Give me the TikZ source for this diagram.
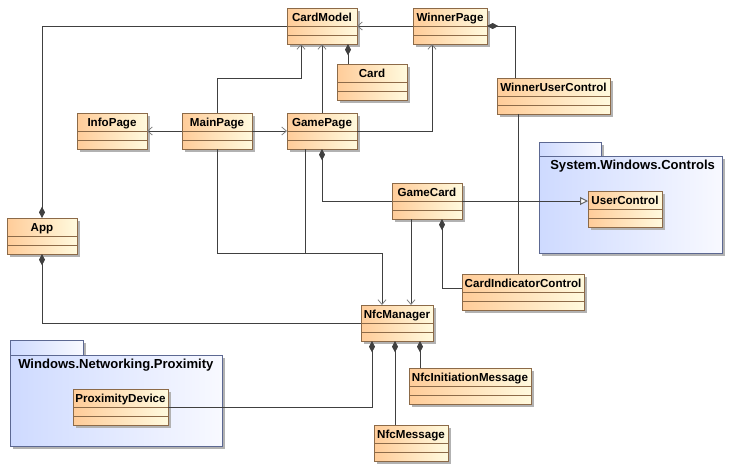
\documentclass[tikz,border=0pt]{standalone}
\usepackage{fontspec}
\setmainfont{Liberation Sans}
\usepackage{tikz}
\usetikzlibrary{arrows.meta, calc, shadows}
\definecolor{classLeft}{RGB}{255, 204, 153}
\definecolor{classRight}{RGB}{255, 250, 222}
\definecolor{classBorder}{RGB}{140, 106, 72}
\definecolor{pkgLeft}{RGB}{206, 218, 255}
\definecolor{pkgRight}{RGB}{248, 249, 255}
\definecolor{pkgBorder}{RGB}{92, 104, 146}
\definecolor{wireGray}{RGB}{64, 64, 64}
\newcommand{\classfont}{\fontsize{8.7}{10}\selectfont\bfseries}
\newcommand{\pkgfont}{\fontsize{9.8}{12}\selectfont\bfseries}

\begin{document}
\begin{tikzpicture}[
    x=0.75pt, y=-0.75pt,
    navtip/.tip={Straight Barb[length=3.5pt, width=6pt, line width=0.6pt, color=gray]},
    comptip/.tip={Diamond[length=8.5pt, width=4.5pt, fill=wireGray]},
    gentip/.tip={Triangle[open, length=6pt, width=6pt, fill=white, color=gray!80!black]},
    classbox/.style={rectangle, draw=classBorder, line width=0.75pt, left color=classLeft, right color=classRight,
      inner xsep=1pt, inner ysep=0pt, outer sep=0pt, text height=9.75pt, text depth=17.25pt, anchor=north west, font=\classfont,
      drop shadow={shadow xshift=2.25pt, shadow yshift=-2.25pt, fill=black!30, opacity=1},
      path picture={
        \draw[classBorder, line width=0.75pt] ([yshift=-13.5pt]path picture bounding box.north west) -- ([yshift=-13.5pt]path picture bounding box.north east);
        \draw[classBorder, line width=0.75pt] ([yshift=-20.25pt]path picture bounding box.north west) -- ([yshift=-20.25pt]path picture bounding box.north east);
      }},
    pkgbox/.style={rectangle, draw=pkgBorder, line width=0.75pt, left color=pkgLeft, right color=pkgRight,
      inner sep=0pt, outer sep=0pt, anchor=north west,
      drop shadow={shadow xshift=2.25pt, shadow yshift=-2.25pt, fill=black!30, opacity=1}},
    pkglabel/.style={anchor=west, inner sep=0pt, font=\pkgfont},
    link/.style={draw=wireGray, line width=0.75pt}
  ]
    \useasboundingbox (0,0) rectangle (735,469);

    % packages
    \node[pkgbox, minimum width=46.5pt, minimum height=10.5pt] (CtrlTab) at (539,142) {};
    \node[pkgbox, minimum width=137.25pt, minimum height=72.75pt] (CtrlPkg) at (539,156) {};
    \node[pkglabel] (CtrlLabel) at ($(CtrlPkg.north west)+(11,10.5)$) {System.Windows.Controls};
    \node[pkgbox, minimum width=54.75pt, minimum height=11.25pt] (ProxTab) at (10,340) {};
    \node[pkgbox, minimum width=159pt, minimum height=68.25pt] (ProxPkg) at (10,355) {};
    \node[pkglabel] (ProxLabel) at ($(ProxPkg.north west)+(8,10.5)$) {Windows.Networking.Proximity};

    % classes
    \node[classbox, minimum width=52.5pt] (CardModel) at (287,8) {CardModel};
    \node[classbox, minimum width=55.5pt] (WinnerPage) at (413,8) {WinnerPage};
    \node[classbox, minimum width=52.5pt] (Card) at (337,64) {Card};
    \node[classbox, minimum width=84.75pt] (WinnerUserControl) at (497,78) {WinnerUserControl};
    \node[classbox, minimum width=52.5pt] (InfoPage) at (77,113) {InfoPage};
    \node[classbox, minimum width=52.5pt] (MainPage) at (182,113) {MainPage};
    \node[classbox, minimum width=52.5pt] (GamePage) at (287,113) {GamePage};
    \node[classbox, minimum width=52.5pt] (App) at (7,218) {App};
    \node[classbox, minimum width=52.5pt] (GameCard) at (392,183) {GameCard};
    \node[classbox, minimum width=55.5pt] (UserControl) at (588,191) {UserControl};
    \node[classbox, minimum width=91.5pt] (CardIndicatorControl) at (462,274) {CardIndicatorControl};
    \node[classbox, minimum width=54pt] (NfcManager) at (361,305) {NfcManager};
    \node[classbox, minimum width=91.5pt] (NfcInitiationMessage) at (409,368) {NfcInitiationMessage};
    \node[classbox, minimum width=71.25pt] (ProximityDevice) at (73,389) {ProximityDevice};
    \node[classbox, minimum width=55.5pt] (NfcMessage) at (374,425) {NfcMessage};

    % connectors
    \draw[link, -{navtip}] (WinnerPage.west) -- (CardModel.east);
    \draw[link, {comptip}-] (App.north) |- (CardModel.west);
    \draw[link, {comptip}-] ($(CardModel.south west)+(61,0)$) coordinate (cm1) -- (cm1 |- Card.north);
    \draw[link, {comptip}-] (WinnerPage.east) -| ($(WinnerUserControl.north west)+(18,0)$);
    \draw[link, -{navtip}] (MainPage.north) -- ++(0,-35) -| ($(CardModel.south west)+(14,0)$);
    \draw[link, -{navtip}] (GamePage.north) -- (CardModel.south);
    \draw[link, -{navtip}] (GamePage.east) -| ($(WinnerPage.south west)+(19,0)$);
    \draw[link, -{navtip}] (MainPage.west) -- (InfoPage.east);
    \draw[link, -{navtip}] (MainPage.east) -- (GamePage.west);
    \draw[link, {comptip}-] (GamePage.south) |- (GameCard.west);
    \draw[link, -{gentip}] (GameCard.east) -- (GameCard.east -| UserControl.west);
    \draw[link] ($(WinnerUserControl.south west)+(21,0)$) coordinate (wu1) -- (wu1 |- CardIndicatorControl.north);
    \draw[link, -{navtip}] ($(GameCard.south west)+(19,0)$) coordinate (gc1) -- (gc1 |- NfcManager.north);
    \draw[link, {comptip}-] ($(GameCard.south west)+(50,0)$) |- ($(CardIndicatorControl.north west)+(0,14)$);
    \draw[link, -{navtip}] (MainPage.south) -- ++(0,104) -| ($(NfcManager.north west)+(21,0)$);
    \draw[link] ($(GamePage.south west)+(18,0)$) -- ++(0,104);
    \draw[link, {comptip}-] (App.south) |- (NfcManager.west);
    \draw[link, {comptip}-] ($(NfcManager.south west)+(11,0)$) |- (ProximityDevice.east);
    \draw[link, {comptip}-] ($(NfcManager.south west)+(34,0)$) coordinate (nm1) -- (nm1 |- NfcMessage.north);
    \draw[link, {comptip}-] ($(NfcManager.south west)+(59,0)$) coordinate (nm2) -- (nm2 |- NfcInitiationMessage.north);
  \end{tikzpicture}
\end{document}
